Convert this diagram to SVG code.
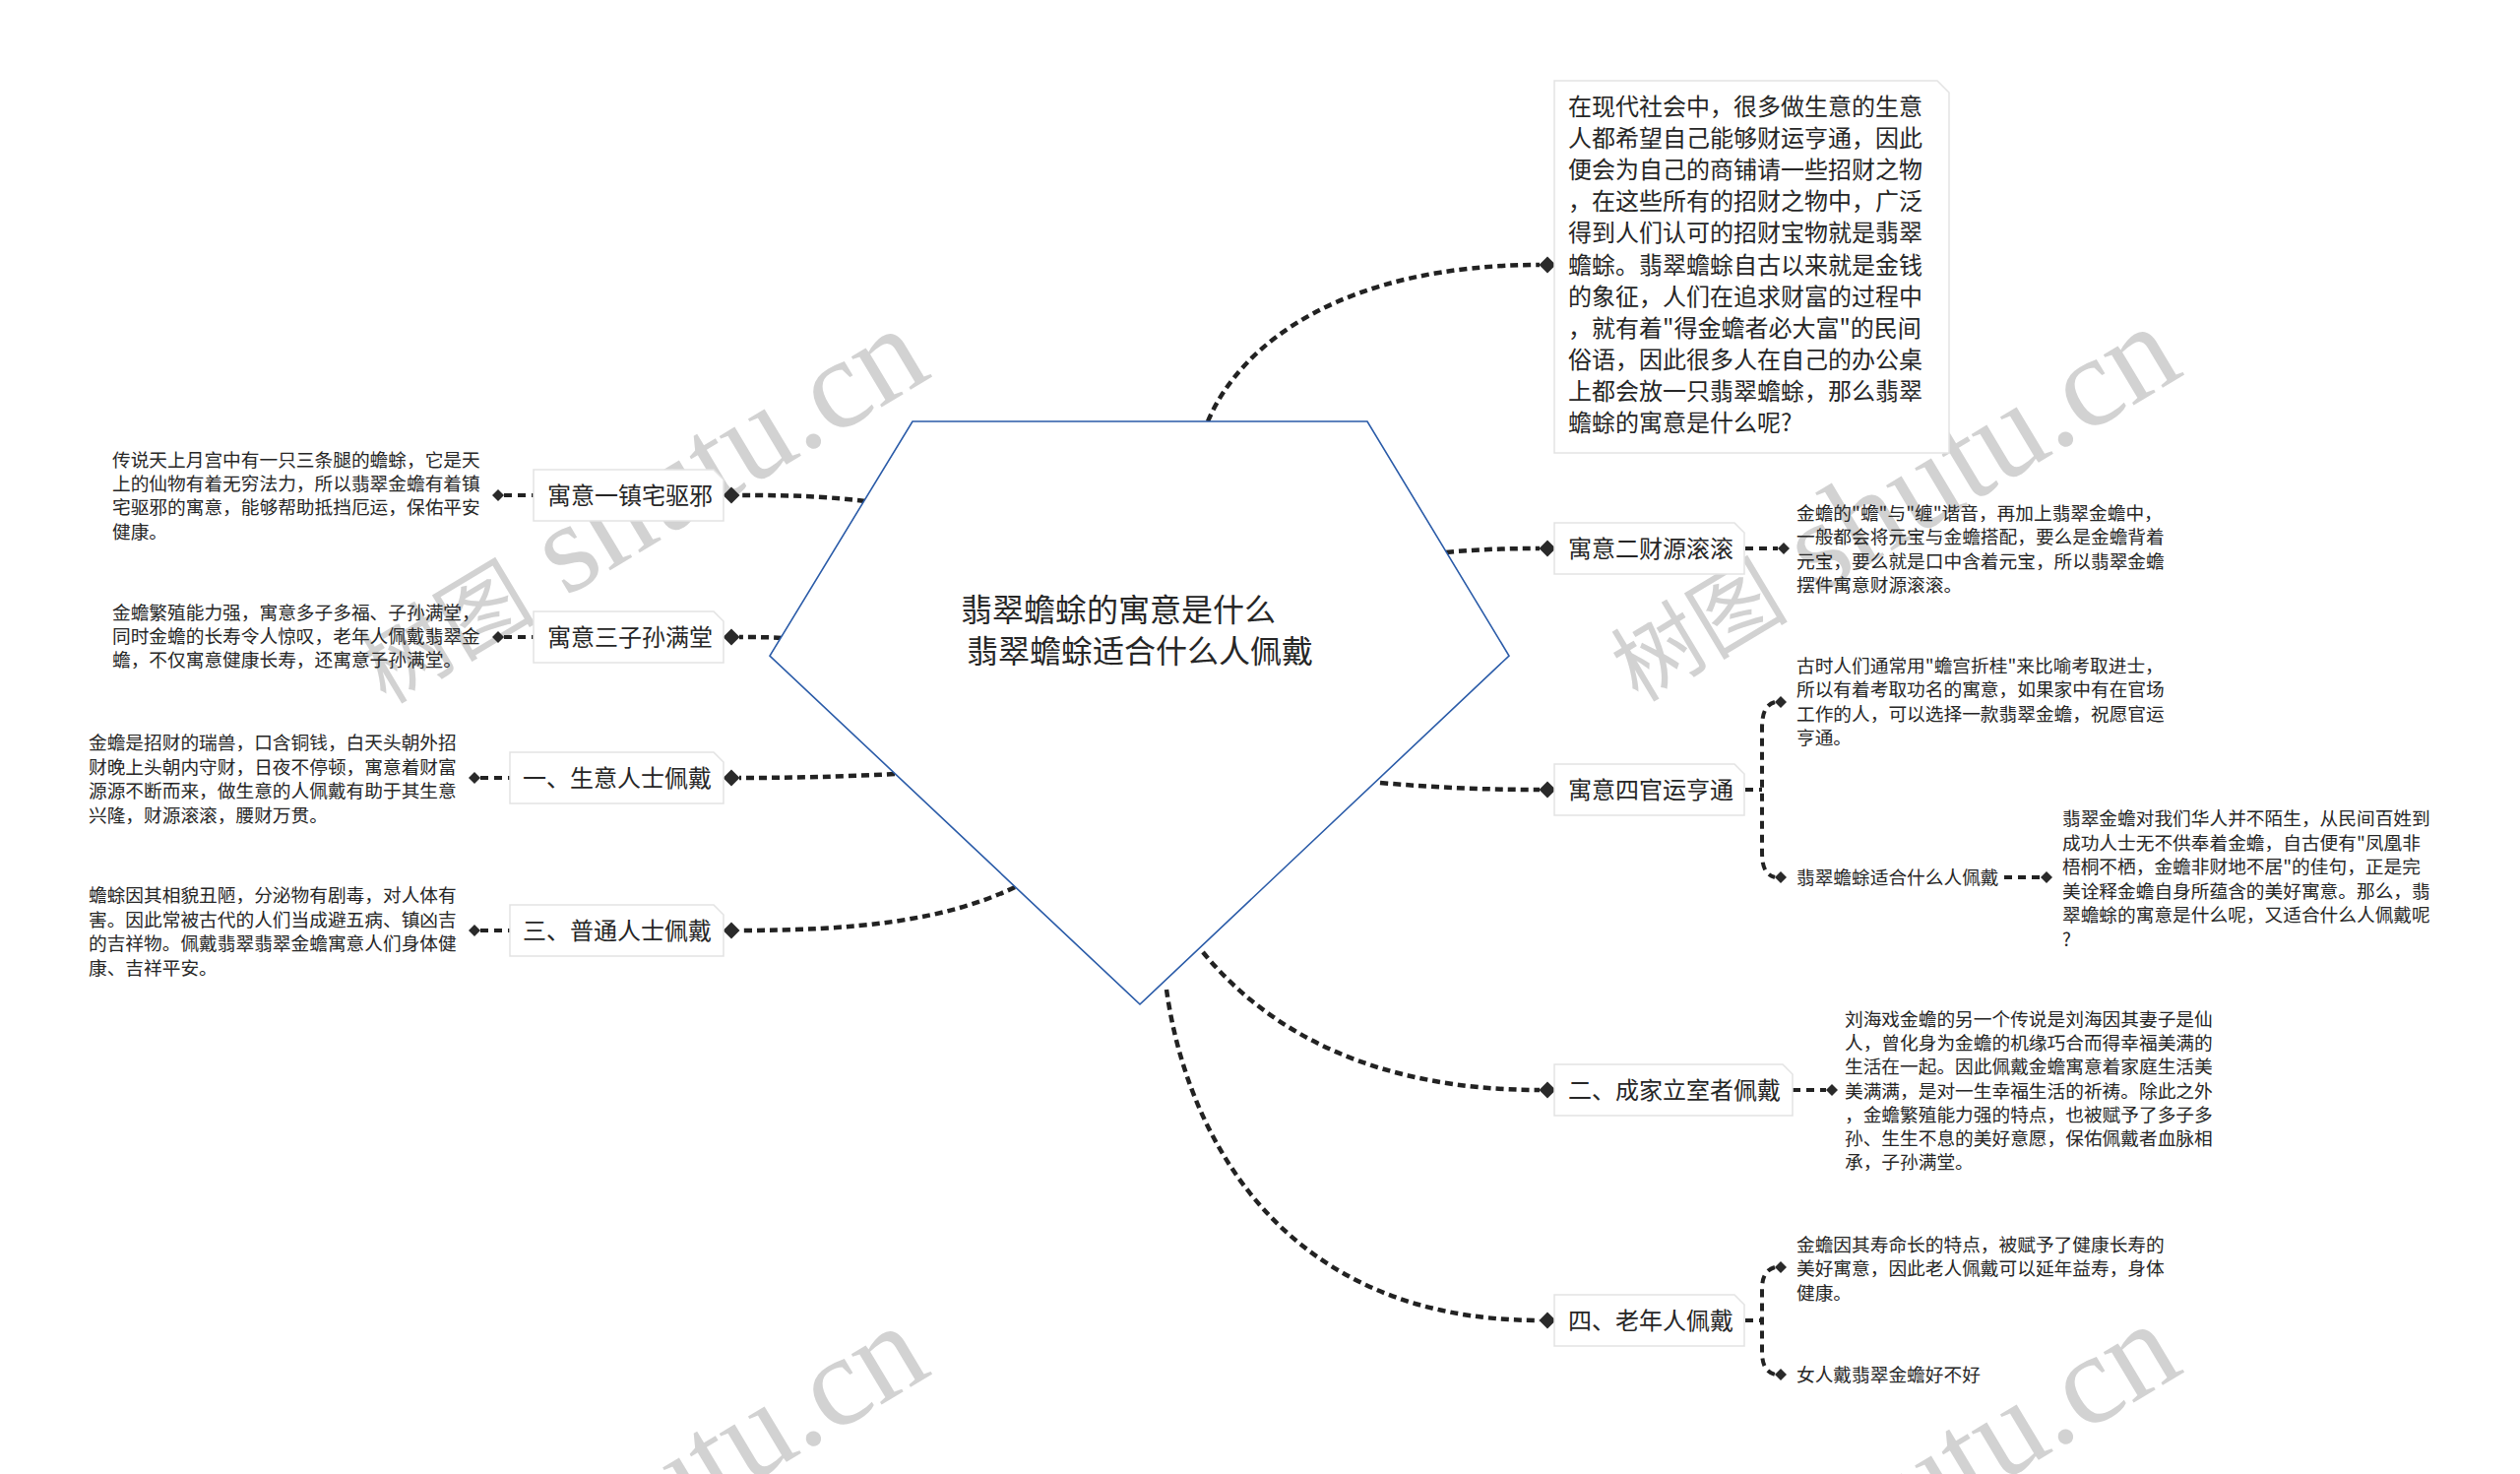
<svg xmlns="http://www.w3.org/2000/svg" width="2560" height="1497" viewBox="0 0 2560 1497">
<style>
text{font-family:"Noto Sans CJK SC","Liberation Sans",sans-serif;fill:#262626}
.t24{font-size:24px}
.t19{font-size:18.7px}
.title{font-size:32px}
.box{fill:#fff;stroke:#e3e3e3;stroke-width:1.5}
.main{fill:none;stroke:#222;stroke-width:4.5;stroke-dasharray:8 5}
.sub{fill:none;stroke:#222;stroke-width:4;stroke-dasharray:8 6}
.dm{fill:#2a2a2a}
.wm{font-family:"Liberation Serif","Noto Sans CJK SC",serif;font-size:130px;fill:#d2d2d2}
</style>
<defs>
<path id="dL" d="M-8.5,0 L0,-8.5 L8.5,0 L0,8.5Z"/>
<path id="dS" d="M-6,0 L0,-6 L6,0 L0,6Z"/>
</defs>
<rect width="2560" height="1497" fill="#fff"/>

<g id="watermark">
<text class="wm" transform="rotate(-31 392 716)" x="392" y="716"><tspan font-size="90">树图</tspan> shutu.cn</text>
<text class="wm" transform="rotate(-31 1664 714)" x="1664" y="714"><tspan font-size="90">树图</tspan> shutu.cn</text>
<text class="wm" transform="rotate(-31 392 1729)" x="392" y="1729"><tspan font-size="90">树图</tspan> shutu.cn</text>
<text class="wm" transform="rotate(-31 1664 1727)" x="1664" y="1727"><tspan font-size="90">树图</tspan> shutu.cn</text>
</g>

<g id="connectors">
<path class="main" d="M1227,428 C1262,345 1370,269 1564,269"/>
<path class="main" d="M1469,561 C1500,558 1530,557 1564,557"/>
<path class="main" d="M1402,795 C1460,800 1510,802 1564,802"/>
<path class="main" d="M1222,967 C1290,1050 1400,1107 1564,1107"/>
<path class="main" d="M1185,1005 C1205,1150 1300,1341 1564,1341"/>
<path class="main" d="M879,509 C830,503 790,503 751,503"/>
<path class="main" d="M794,648 C780,647 765,647 751,647"/>
<path class="main" d="M909,786 C850,789 800,790 751,790"/>
<path class="main" d="M1031,901 C960,935 870,945 751,945"/>
<path class="sub" d="M512,503 H542"/>
<path class="sub" d="M512,647 H542"/>
<path class="sub" d="M488,790 H518"/>
<path class="sub" d="M488,945 H518"/>
<path class="sub" d="M1773,557 H1806"/>
<path class="sub" d="M1821,1107 H1855"/>
<path class="sub" d="M2036,891 H2073"/>
<path class="sub" d="M1773,802 H1790 M1803,713 C1793,716 1790,725 1790,740 V865 C1790,880 1793,888 1803,891"/>
<path class="sub" d="M1773,1341 H1790 M1803,1287 C1793,1290 1790,1298 1790,1310 V1372 C1790,1385 1793,1393 1803,1396"/>
<g class="dm">
<use href="#dL" x="1572" y="269"/>
<use href="#dL" x="1572" y="557"/>
<use href="#dL" x="1572" y="802"/>
<use href="#dL" x="1572" y="1107"/>
<use href="#dL" x="1572" y="1341"/>
<use href="#dL" x="743" y="503"/>
<use href="#dL" x="743" y="647"/>
<use href="#dL" x="743" y="790"/>
<use href="#dL" x="743" y="945"/>
<use href="#dS" x="506" y="503"/>
<use href="#dS" x="506" y="647"/>
<use href="#dS" x="482" y="790"/>
<use href="#dS" x="482" y="945"/>
<use href="#dS" x="1812" y="557"/>
<use href="#dS" x="1861" y="1107"/>
<use href="#dS" x="2079" y="891"/>
<use href="#dS" x="1809" y="713"/>
<use href="#dS" x="1809" y="891"/>
<use href="#dS" x="1809" y="1287"/>
<use href="#dS" x="1809" y="1396"/>
</g>
</g>

<g id="root">
<polygon points="927,428 1389,428 1533,666 1158,1020 782,666" fill="#fff" stroke="#2a5ba8" stroke-width="1.6"/>
<text class="title" x="976" y="631">翡翠蟾蜍的寓意是什么</text>
<text class="title" x="982" y="673">翡翠蟾蜍适合什么人佩戴</text>
</g>

<g id="intro">
<path class="box" d="M1579,82 H1968 L1980,94 V460 H1579 Z"/>
<text class="t24" x="1593" y="117">
<tspan x="1593" dy="0">在现代社会中，很多做生意的生意</tspan>
<tspan x="1593" dy="32.1">人都希望自己能够财运亨通，因此</tspan>
<tspan x="1593" dy="32.1">便会为自己的商铺请一些招财之物</tspan>
<tspan x="1593" dy="32.1">，在这些所有的招财之物中，广泛</tspan>
<tspan x="1593" dy="32.1">得到人们认可的招财宝物就是翡翠</tspan>
<tspan x="1593" dy="32.1">蟾蜍。翡翠蟾蜍自古以来就是金钱</tspan>
<tspan x="1593" dy="32.1">的象征，人们在追求财富的过程中</tspan>
<tspan x="1593" dy="32.1">，就有着"得金蟾者必大富"的民间</tspan>
<tspan x="1593" dy="32.1">俗语，因此很多人在自己的办公桌</tspan>
<tspan x="1593" dy="32.1">上都会放一只翡翠蟾蜍，那么翡翠</tspan>
<tspan x="1593" dy="32.1">蟾蜍的寓意是什么呢?</tspan>
</text>
</g>

<g id="n-caiyuan">
<path class="box" d="M1579,531 H1762 L1772,541 V583 H1579 Z"/>
<text class="t24" x="1593" y="566">寓意二财源滚滚</text>
</g>
<g id="leaf-caiyuan">
<text class="t19" x="1825" y="528">
<tspan x="1825" dy="0">金蟾的"蟾"与"缠"谐音，再加上翡翠金蟾中，</tspan>
<tspan x="1825" dy="24.3">一般都会将元宝与金蟾搭配，要么是金蟾背着</tspan>
<tspan x="1825" dy="24.3">元宝，要么就是口中含着元宝，所以翡翠金蟾</tspan>
<tspan x="1825" dy="24.3">摆件寓意财源滚滚。</tspan>
</text>
</g>

<g id="n-guanyun">
<path class="box" d="M1579,776 H1762 L1772,786 V828 H1579 Z"/>
<text class="t24" x="1593" y="811">寓意四官运亨通</text>
</g>
<g id="leaf-guanyun">
<text class="t19" x="1825" y="683">
<tspan x="1825" dy="0">古时人们通常用"蟾宫折桂"来比喻考取进士，</tspan>
<tspan x="1825" dy="24.3">所以有着考取功名的寓意，如果家中有在官场</tspan>
<tspan x="1825" dy="24.3">工作的人，可以选择一款翡翠金蟾，祝愿官运</tspan>
<tspan x="1825" dy="24.3">亨通。</tspan>
</text>
</g>
<g id="n-shihe">
<text class="t19" x="1825" y="898">翡翠蟾蜍适合什么人佩戴</text>
</g>
<g id="leaf-shihe">
<text class="t19" x="2095" y="838">
<tspan x="2095" dy="0">翡翠金蟾对我们华人并不陌生，从民间百姓到</tspan>
<tspan x="2095" dy="24.5">成功人士无不供奉着金蟾，自古便有"凤凰非</tspan>
<tspan x="2095" dy="24.5">梧桐不栖，金蟾非财地不居"的佳句，正是完</tspan>
<tspan x="2095" dy="24.5">美诠释金蟾自身所蕴含的美好寓意。那么，翡</tspan>
<tspan x="2095" dy="24.5">翠蟾蜍的寓意是什么呢，又适合什么人佩戴呢</tspan>
<tspan x="2095" dy="24.5">?</tspan>
</text>
</g>

<g id="n-chengjia">
<path class="box" d="M1579,1081 H1811 L1821,1091 V1133 H1579 Z"/>
<text class="t24" x="1593" y="1116">二、成家立室者佩戴</text>
</g>
<g id="leaf-chengjia">
<text class="t19" x="1874" y="1042">
<tspan x="1874" dy="0">刘海戏金蟾的另一个传说是刘海因其妻子是仙</tspan>
<tspan x="1874" dy="24.2">人，曾化身为金蟾的机缘巧合而得幸福美满的</tspan>
<tspan x="1874" dy="24.2">生活在一起。因此佩戴金蟾寓意着家庭生活美</tspan>
<tspan x="1874" dy="24.2">美满满，是对一生幸福生活的祈祷。除此之外</tspan>
<tspan x="1874" dy="24.2">，金蟾繁殖能力强的特点，也被赋予了多子多</tspan>
<tspan x="1874" dy="24.2">孙、生生不息的美好意愿，保佑佩戴者血脉相</tspan>
<tspan x="1874" dy="24.2">承，子孙满堂。</tspan>
</text>
</g>

<g id="n-laonian">
<path class="box" d="M1579,1315 H1762 L1772,1325 V1367 H1579 Z"/>
<text class="t24" x="1593" y="1350">四、老年人佩戴</text>
</g>
<g id="leaf-laonian">
<text class="t19" x="1825" y="1271">
<tspan x="1825" dy="0">金蟾因其寿命长的特点，被赋予了健康长寿的</tspan>
<tspan x="1825" dy="24.3">美好寓意，因此老人佩戴可以延年益寿，身体</tspan>
<tspan x="1825" dy="24.3">健康。</tspan>
</text>
</g>
<g id="leaf-nvren">
<text class="t19" x="1825" y="1403">女人戴翡翠金蟾好不好</text>
</g>

<g id="n-zhenzhai">
<path class="box" d="M542,477 H725 L735,487 V529 H542 Z"/>
<text class="t24" x="556" y="512">寓意一镇宅驱邪</text>
</g>
<g id="leaf-zhenzhai">
<text class="t19" x="114" y="474">
<tspan x="114" dy="0">传说天上月宫中有一只三条腿的蟾蜍，它是天</tspan>
<tspan x="114" dy="24.2">上的仙物有着无穷法力，所以翡翠金蟾有着镇</tspan>
<tspan x="114" dy="24.2">宅驱邪的寓意，能够帮助抵挡厄运，保佑平安</tspan>
<tspan x="114" dy="24.2">健康。</tspan>
</text>
</g>

<g id="n-zisun">
<path class="box" d="M542,621 H725 L735,631 V673 H542 Z"/>
<text class="t24" x="556" y="656">寓意三子孙满堂</text>
</g>
<g id="leaf-zisun">
<text class="t19" x="114" y="629">
<tspan x="114" dy="0">金蟾繁殖能力强，寓意多子多福、子孙满堂，</tspan>
<tspan x="114" dy="24.2">同时金蟾的长寿令人惊叹，老年人佩戴翡翠金</tspan>
<tspan x="114" dy="24.2">蟾，不仅寓意健康长寿，还寓意子孙满堂。</tspan>
</text>
</g>

<g id="n-shengyi">
<path class="box" d="M518,764 H725 L735,774 V816 H518 Z"/>
<text class="t24" x="531" y="799">一、生意人士佩戴</text>
</g>
<g id="leaf-shengyi">
<text class="t19" x="90" y="761">
<tspan x="90" dy="0">金蟾是招财的瑞兽，口含铜钱，白天头朝外招</tspan>
<tspan x="90" dy="24.5">财晚上头朝内守财，日夜不停顿，寓意着财富</tspan>
<tspan x="90" dy="24.5">源源不断而来，做生意的人佩戴有助于其生意</tspan>
<tspan x="90" dy="24.5">兴隆，财源滚滚，腰财万贯。</tspan>
</text>
</g>

<g id="n-putong">
<path class="box" d="M518,919 H725 L735,929 V971 H518 Z"/>
<text class="t24" x="531" y="954">三、普通人士佩戴</text>
</g>
<g id="leaf-putong">
<text class="t19" x="90" y="916">
<tspan x="90" dy="0">蟾蜍因其相貌丑陋，分泌物有剧毒，对人体有</tspan>
<tspan x="90" dy="24.5">害。因此常被古代的人们当成避五病、镇凶吉</tspan>
<tspan x="90" dy="24.5">的吉祥物。佩戴翡翠翡翠金蟾寓意人们身体健</tspan>
<tspan x="90" dy="24.5">康、吉祥平安。</tspan>
</text>
</g>
</svg>
